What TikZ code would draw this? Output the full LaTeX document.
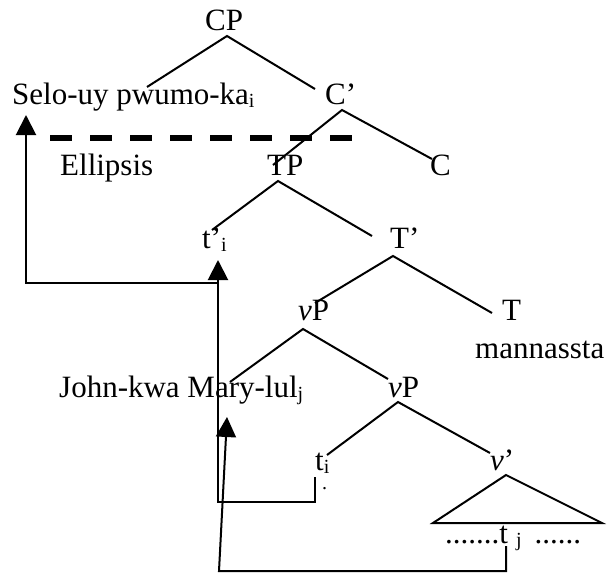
\documentclass[tikz,border=0pt]{standalone}
\usepackage{fontspec}
\setmainfont{Liberation Serif}
\usetikzlibrary{arrows.meta}
\newcommand{\sbs}[1]{\raisebox{-0.12em}{\fontsize{20}{20}\selectfont #1}}
\begin{document}
\begin{tikzpicture}[x=1pt,y=-1pt,
  lbl/.style={inner sep=0pt,anchor=base west,font=\fontsize{31}{37}\selectfont},
  tree/.style={line width=2pt},
  conn/.style={line width=2pt},
  arr/.style={conn,-{Triangle[width=20pt,length=20pt]}},
  ellip/.style={line width=6pt,dash pattern=on 22pt off 18pt}]
\useasboundingbox (0,0) rectangle (608,573);
% labels
\node[lbl] (cp) at (205,30) {CP};
\node[lbl] (selo) at (12,104) {Selo-uy pwumo-ka\sbs{i}};
\node[lbl] (cbar) at (325,104) {C’};
\node[lbl] (ellipsis) at (60,175) {Ellipsis};
\node[lbl] (tp) at (267,175) {TP};
\node[lbl] (c) at (430,175) {C};
\node[lbl] (tpi) at (202,248) {t’\sbs{i}};
\node[lbl] (tbar) at (390,248) {T’};
\node[lbl] (vp1) at (298,320) {\textit{v}P};
\node[lbl] (t) at (502,320) {T};
\node[lbl] (mann) at (475,358) {mannassta};
\node[lbl] (john) at (59,397) {John-kwa Mary-lul\sbs{j}};
\node[lbl] (vp2) at (388,397) {\textit{v}P};
\node[lbl] (ti) at (315,470) {t\sbs{i}};
\node[lbl,font=\fontsize{20}{20}\selectfont] (dot) at (322,489) {.};
\node[lbl] (vbar) at (490,470) {\textit{v}’};
\node[lbl] (tj) at (445,543) {.......t\sbs{\hspace{8pt}j}\hspace{13pt}......};
% tree coordinates
\coordinate (cpA) at (227,36);
\coordinate (cpL) at (147,87);
\coordinate (cpR) at (315,89);
\coordinate (cbA) at (342,110);
\coordinate (cbL) at (273,165);
\coordinate (cbR) at (432,159);
\coordinate (tpA) at (278,181);
\coordinate (tpL) at (212,230);
\coordinate (tpR) at (372,236);
\coordinate (tbA) at (393,256);
\coordinate (tbL) at (315,303);
\coordinate (tbR) at (492,313);
\coordinate (v1A) at (303,329);
\coordinate (v1L) at (230,382);
\coordinate (v1R) at (388,379);
\coordinate (v2A) at (398,402);
\coordinate (v2L) at (327,455);
\coordinate (v2R) at (490,453);
\coordinate (triA) at (506,475);
\coordinate (triL) at (433,523);
\coordinate (triR) at (602,523);
\draw[tree] (cpL) -- (cpA) -- (cpR);
\draw[tree] (cbL) -- (cbA) -- (cbR);
\draw[tree] (tpL) -- (tpA) -- (tpR);
\draw[tree] (tbL) -- (tbA) -- (tbR);
\draw[tree] (v1L) -- (v1A) -- (v1R);
\draw[tree] (v2L) -- (v2A) -- (v2R);
\draw[tree] (triA) -- (triL) -- (triR) -- cycle;
% ellipsis line
\coordinate (elS) at (50,138);
\coordinate (elE) at (356,138);
\draw[ellip] (elS) -- (elE);
% movement connectors
\coordinate (tiFoot) at (315,477);
\coordinate (tiCorner) at (315,502);
\coordinate (midCorner) at (218,502);
\coordinate (tpiTip) at (218,260);
\coordinate (joinA) at (218,283);
\coordinate (leftCorner) at (26,283);
\coordinate (seloTip) at (26,115);
\coordinate (tjFoot) at (506,546);
\coordinate (tjCorner) at (506,571);
\coordinate (lowCorner) at (219,571);
\coordinate (johnTip) at (227,417);
\draw[arr] (tiFoot) -- (tiCorner) -- (midCorner) -- (tpiTip);
\draw[arr] (joinA) -- (leftCorner) -- (seloTip);
\draw[arr] (tjFoot) -- (tjCorner) -- (lowCorner) -- (johnTip);
\end{tikzpicture}
\end{document}
